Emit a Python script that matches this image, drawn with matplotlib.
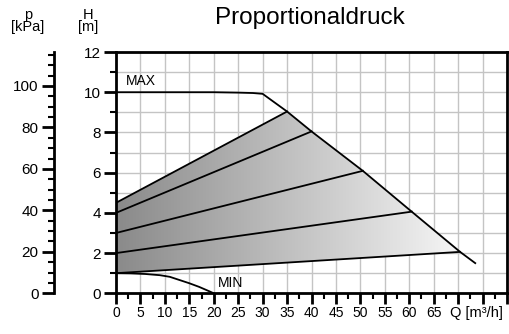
import numpy as np
import matplotlib
matplotlib.use("Agg")
import matplotlib.pyplot as plt
from matplotlib.path import Path
from matplotlib.patches import PathPatch
from matplotlib.colors import LinearSegmentedColormap
from matplotlib.ticker import MultipleLocator, FixedLocator

plt.rcParams['font.family'] = ['Liberation Sans', 'DejaVu Sans']

# MAX curve (Q in m3/h, H in m)
q_max = [0, 10, 20, 25, 28, 30, 35, 40, 50.5, 60.5, 70.4, 73.5]
h_max = [10, 10, 10, 9.98, 9.96, 9.92, 9.04, 8.05, 6.09, 4.06, 2.06, 1.5]

# MIN curve
q_min = [0, 3, 6, 9, 11, 13, 15, 17, 19, 20]
h_min = [1, 0.99, 0.96, 0.9, 0.82, 0.66, 0.5, 0.32, 0.11, 0]

# proportional pressure lines: start at Q=0, end on MAX curve
prop_h0 = [1, 2, 3, 4, 4.5]
prop_q1 = [70.4, 60.5, 50.5, 40, 35]
prop_h1 = [2.06, 4.06, 6.09, 8.05, 9.04]

x_ticks = [0, 5, 10, 15, 20, 25, 30, 35, 40, 45, 50, 55, 60, 65, 70, 75, 80]
x_labels = ['0', '5', '10', '15', '20', '25', '30', '35', '40', '45', '50',
            '55', '60', '65', '', '', '']
kpa_ticks = [0, 20, 40, 60, 80, 100]
kpa_minor = list(range(0, 116, 5))
kpa_per_m = 9.7

W, H = 509, 334
fig = plt.figure(figsize=(W / 100, H / 100), dpi=100)
ax = fig.add_axes([116 / W, 1 - 293.3 / H, (507 - 116) / W, (293.3 - 52) / H])
ax.set_xlim(0, 80)
ax.set_ylim(0, 12)

# grid
for q in np.arange(5, 80, 5):
    ax.axvline(q, color='#c4c4c4', lw=1, zorder=0)
for h in range(1, 12):
    ax.axhline(h, color='#c4c4c4', lw=1, zorder=0)

# gradient area between lowest and highest proportional line
qm = np.array(q_max)
hm = np.array(h_max)
sel = (qm > prop_q1[-1]) & (qm < prop_q1[0])
verts = [(0, prop_h0[0]), (prop_q1[0], prop_h1[0])]
verts += [(q, h) for q, h in zip(qm[sel][::-1], hm[sel][::-1])]
verts += [(prop_q1[-1], prop_h1[-1]), (0, prop_h0[-1]), (0, prop_h0[0])]
patch = PathPatch(Path(verts), facecolor='none', edgecolor='none')
ax.add_patch(patch)
cmap = LinearSegmentedColormap.from_list('g', ['#8a8a8a', '#f6f6f6'])
grad = np.linspace(0, 1, 256).reshape(1, -1)
im = ax.imshow(grad, cmap=cmap, aspect='auto', extent=[0, prop_q1[0], 0, 12],
               zorder=1, interpolation='bilinear')
im.set_clip_path(patch)

# curves
ax.plot(q_max, h_max, color='black', lw=1.3, zorder=3)
ax.plot(q_min, h_min, color='black', lw=1.3, zorder=3)
for h0, q1, h1 in zip(prop_h0, prop_q1, prop_h1):
    ax.plot([0, q1], [h0, h1], color='black', lw=1.3, zorder=3)

ax.text(2, 10.55, 'MAX', fontsize=10, va='center', ha='left')
ax.text(20.8, 0.53, 'MIN', fontsize=10, va='center', ha='left')

# spines and ticks
for s in ax.spines.values():
    s.set_linewidth(2)
ax.set_xticks(x_ticks)
ax.set_xticklabels(x_labels)
ax.xaxis.set_minor_locator(MultipleLocator(2.5))
ax.yaxis.set_major_locator(MultipleLocator(2))
ax.yaxis.set_minor_locator(MultipleLocator(1))
ax.tick_params(axis='both', which='major', direction='out', width=2,
               color='black')
ax.tick_params(axis='x', which='major', length=8, labelsize=10, pad=1)
ax.tick_params(axis='x', which='minor', length=4, width=1.5)
ax.tick_params(axis='y', which='major', length=9, labelsize=11, pad=2)
ax.tick_params(axis='y', which='minor', length=4, width=1.5)
ax.annotate('Q [m³/h]', xy=(73.8, 0), xycoords=('data', 'axes fraction'),
            xytext=(0, -9), textcoords='offset points', fontsize=10.5,
            ha='center', va='top', annotation_clip=False)

# pressure axis
sec = ax.secondary_yaxis(-0.1586, functions=(lambda h: h * kpa_per_m,
                                               lambda p: p / kpa_per_m))
sec.yaxis.set_major_locator(FixedLocator(kpa_ticks))
sec.yaxis.set_minor_locator(FixedLocator(kpa_minor))
sec.spines['left'].set_linewidth(2)
sec.tick_params(which='major', length=9, width=2, labelsize=11, pad=2)
sec.tick_params(which='minor', length=4, width=1.5)

fig.text(28 / W, 1 - 21 / H, 'p\n[kPa]', fontsize=10.5, ha='center',
         va='center', multialignment='center', linespacing=0.9)
fig.text(88 / W, 1 - 21 / H, 'H\n[m]', fontsize=10.5, ha='center',
         va='center', multialignment='center', linespacing=0.9)
fig.text(310 / W, 1 - 18 / H, 'Proportionaldruck', fontsize=17.5,
         ha='center', va='center')

fig.savefig('out.png', dpi=100)
